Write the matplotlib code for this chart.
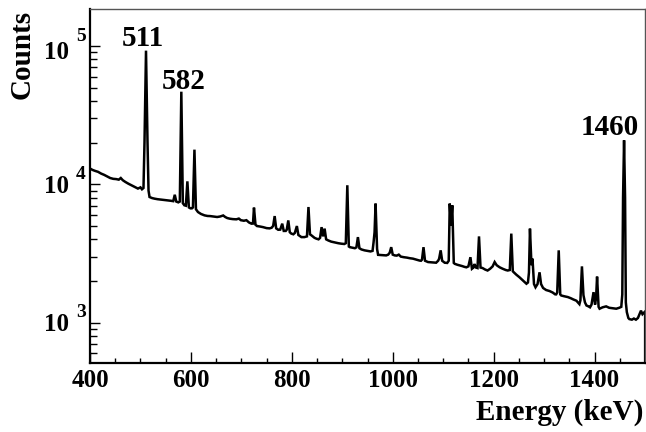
import matplotlib
matplotlib.use("Agg")
import matplotlib.pyplot as plt
from matplotlib.ticker import MultipleLocator, LogLocator, NullFormatter

# ---- data (energy in keV, counts per bin) ----
energy = [400, 405, 410, 416, 422, 428, 434, 440, 446, 452, 457, 461, 465, 470, 476,
          482, 488, 495, 500, 503, 506, 508, 511, 514, 516, 518, 523, 528, 534, 540,
          547, 554, 560, 565, 568, 571, 575, 578, 581, 584, 587, 590, 593, 596, 599,
          602, 604, 607, 610, 614, 620, 627, 633, 638, 645, 652, 658, 664, 668, 672,
          677, 683, 690, 695, 699, 705, 710, 715, 720, 723, 725, 728, 731, 737, 743,
          750, 756, 760, 763, 766, 769, 773, 777, 781, 784, 788, 790, 793, 796, 799,
          803, 806, 810, 813, 819, 825, 830, 833, 836, 839, 845, 849, 853, 856, 859,
          862, 865, 868, 872, 878, 885, 892, 898, 904, 907, 910, 913, 915, 920, 925,
          928, 931, 934, 938, 944, 950, 956, 960, 962, 964, 966, 969, 971, 977, 983,
          987, 991, 994, 997, 1000, 1004, 1008, 1012, 1016, 1022, 1028, 1034, 1040, 1046, 1053,
          1056, 1058, 1061, 1064, 1070, 1076, 1082, 1086, 1090, 1092, 1095, 1098, 1103, 1108, 1111,
          1113, 1115.5, 1118, 1121, 1123, 1128, 1133, 1138, 1142, 1146, 1150, 1154, 1157, 1160, 1162,
          1165, 1168, 1171, 1174, 1178, 1183, 1188, 1193, 1198, 1202, 1206, 1212, 1218, 1224, 1228,
          1232, 1235, 1238, 1240, 1245, 1251, 1256, 1261, 1265, 1268, 1270, 1272, 1275, 1277, 1280,
          1283, 1287, 1291, 1294, 1298, 1304, 1311, 1317, 1322, 1324, 1326, 1329, 1332, 1334, 1340,
          1347, 1353, 1358, 1364, 1370, 1372, 1375, 1378, 1381, 1384, 1388, 1391, 1394, 1396, 1398,
          1401, 1403, 1405, 1408, 1410, 1416, 1423, 1429, 1436, 1443, 1449, 1453, 1455, 1456.5, 1458.5,
          1460.5, 1462, 1464, 1467, 1469, 1474, 1478, 1482, 1486, 1489, 1492, 1495, 1500]
counts = [13000, 12700, 12500, 12300, 11950, 11700, 11400, 11100, 10950, 10900, 10800, 11100, 10700, 10400, 10100,
          9840, 9600, 9310, 9500, 9200, 9400, 20000, 92500, 20000, 9000, 8090, 7950, 7870, 7800, 7750,
          7700, 7650, 7600, 7550, 8400, 7500, 7400, 7500, 46700, 7300, 7050, 7000, 10500, 6800, 6700,
          6700, 6800, 17800, 6600, 6300, 6100, 5960, 5900, 5890, 5850, 5800, 5850, 5950, 5800, 5700,
          5640, 5600, 5580, 5650, 5500, 5450, 5500, 5300, 5190, 5200, 6780, 5100, 4990, 4950, 4900,
          4820, 4800, 4850, 5000, 5890, 4800, 4690, 4700, 5190, 4600, 4600, 4700, 5480, 4500, 4400,
          4350, 4450, 4990, 4300, 4150, 4150, 4200, 6850, 4350, 4270, 4100, 4040, 4000, 4100, 4900,
          4200, 4780, 4000, 3930, 3850, 3800, 3750, 3720, 3700, 3750, 9840, 3550, 3510, 3480, 3450,
          3500, 4150, 3450, 3380, 3330, 3300, 3270, 3300, 3800, 4500, 7250, 3400, 3090, 3080, 3070,
          3060, 3100, 3200, 3510, 3100, 3060, 3050, 3100, 3000, 2970, 2950, 2920, 2900, 2860, 2810,
          2800, 2850, 3510, 2800, 2740, 2730, 2720, 2710, 2800, 2900, 3330, 2800, 2710, 2700, 2800,
          7250, 5000, 7050, 2700, 2660, 2620, 2590, 2560, 2530, 2510, 2550, 2970, 2450, 2500, 2650,
          2500, 2480, 4200, 2500, 2480, 2420, 2380, 2450, 2550, 2740, 2600, 2510, 2450, 2400, 2380,
          2400, 4400, 2350, 2310, 2220, 2130, 2050, 1970, 1910, 1950, 2300, 4780, 2600, 2900, 1900,
          1800, 1900, 2310, 1900, 1780, 1720, 1690, 1650, 1600, 1600, 1650, 3330, 1600, 1570, 1550,
          1530, 1500, 1470, 1440, 1360, 1450, 2550, 1580, 1400, 1330, 1310, 1290, 1350, 1500, 1660,
          1350, 1500, 2150, 1300, 1260, 1290, 1310, 1280, 1270, 1260, 1280, 1300, 1600, 8000, 20800,
          8000, 1400, 1190, 1080, 1060, 1050, 1070, 1050, 1080, 1150, 1220, 1150, 1200]

peak_labels = ["511", "582", "1460"]
peak_label_x = [505.6, 585.7, 1430.7]
peak_label_y = [1.0e5, 4.87e4, 2.27e4]

x_range = (400, 1500)
y_range = (513, 1.85e5)
y_decades = [1e3, 1e4, 1e5]
y_exponents = ["3", "4", "5"]

# ---- figure ----
plt.rcParams['font.family'] = ['Liberation Serif', 'DejaVu Serif']
plt.rcParams['font.weight'] = 'bold'

W, H = 646, 432
fig = plt.figure(figsize=(W / 100, H / 100), dpi=100)
L, R, T, B = 90, 645, 9, 362.7
ax = fig.add_axes([L / W, 1 - B / H, (R - L) / W, (B - T) / H])

ax.plot(energy, counts, color='black', lw=1.8, solid_joinstyle='miter')
ax.set_yscale('log')
ax.set_xlim(*x_range)
ax.set_ylim(*y_range)
ax.vlines(energy[-1], y_range[0], counts[-1], color='black', lw=1.6)

ax.xaxis.set_major_locator(MultipleLocator(200))
ax.xaxis.set_minor_locator(MultipleLocator(50))
ax.yaxis.set_major_locator(LogLocator(base=10, numticks=10))
ax.yaxis.set_minor_locator(LogLocator(base=10, subs=range(2, 10), numticks=20))
ax.yaxis.set_major_formatter(NullFormatter())
ax.yaxis.set_minor_formatter(NullFormatter())

ax.tick_params(axis='x', which='major', direction='in', length=7.9, width=1.0,
               labelsize=18, pad=4.5, top=False)
ax.tick_params(axis='x', which='minor', direction='in', length=3.6, width=1.0, top=False)
ax.tick_params(axis='y', which='major', direction='in', length=7.2, width=1.0, right=False)
ax.tick_params(axis='y', which='minor', direction='in', length=4.8, width=1.0, right=False)
for lab in ax.get_xticklabels():
    lab.set_fontweight('bold')

for side in ['left', 'bottom']:
    ax.spines[side].set_linewidth(1.6)
for side in ['top', 'right']:
    ax.spines[side].set_linewidth(1.0)
    ax.spines[side].set_color('#555555')

# y tick labels as "10" + exponent (ROOT style)
ten_dy = {1e3: -1.5, 1e4: -2.5, 1e5: -7}
exp_dy = {1e3: 10, 1e4: 10, 1e5: 9}
for v, e in zip(y_decades, y_exponents):
    ax.annotate("10", xy=(0, v), xycoords=('axes fraction', 'data'),
                xytext=(-21, ten_dy[v]), textcoords='offset pixels',
                ha='right', va='center', fontsize=18, fontweight='bold')
    ax.annotate(e, xy=(0, v), xycoords=('axes fraction', 'data'),
                xytext=(-14, exp_dy[v]), textcoords='offset pixels',
                ha='left', va='center', fontsize=14, fontweight='bold')

for t, x, y in zip(peak_labels, peak_label_x, peak_label_y):
    ax.text(x, y, t, ha='center', va='baseline', fontsize=21, fontweight='bold')

fig.text(643 / W, 1 - 420 / H, "Energy (keV)", ha='right', va='baseline',
         fontsize=21, fontweight='bold')
fig.text(22.5 / W, 1 - 10 / H, "Counts", ha='center', va='top', rotation=90,
         fontsize=21, fontweight='bold')

fig.savefig("out.png", dpi=100)
